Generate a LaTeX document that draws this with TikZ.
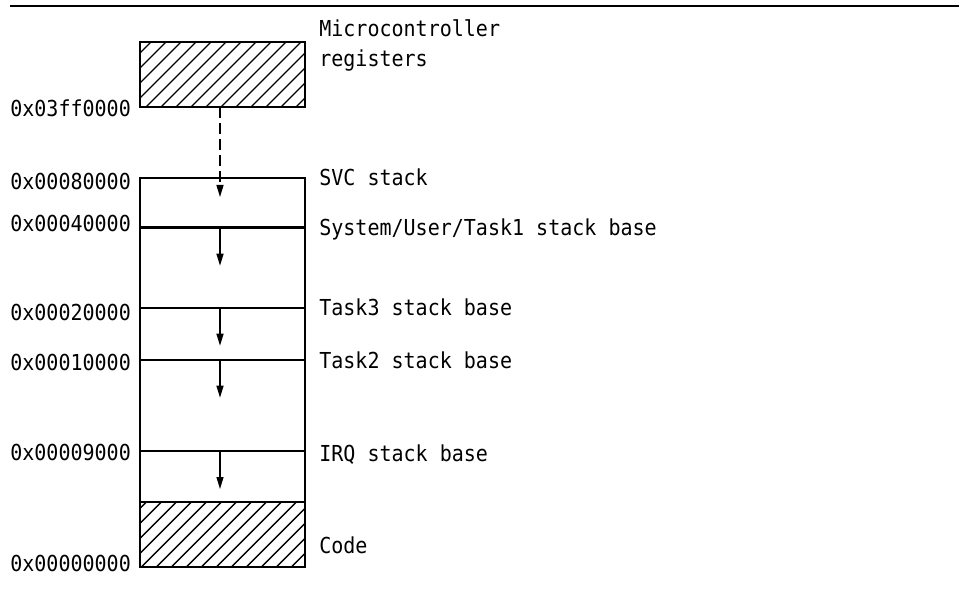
\documentclass[tikz,border=0pt]{standalone}
\usepackage{fontspec}
\newfontfamily\lblfont[FakeStretch=0.91]{DejaVu Sans Mono}
\usetikzlibrary{arrows.meta}
\begin{document}
\begin{tikzpicture}[x=1bp,y=-1bp,
  box/.style={draw,line width=2bp,inner sep=0,outer sep=0,anchor=north west,minimum width=165.3bp},
  lbl/.style={inner sep=0,outer sep=0,anchor=base west,font=\lblfont\fontsize{22bp}{30bp}\selectfont,align=left},
  growarrow/.style={line width=1.3bp,-{Triangle[width=7bp,length=12bp]}},
  hatchline/.style={line width=1.3bp}]
\useasboundingbox (0,0) rectangle (959,614);
% top rule
\coordinate (ruleL) at (10,6);
\coordinate (ruleR) at (959,6);
\draw[line width=1.5bp] (ruleL) -- (ruleR);

% microcontroller registers (hatched)
\node[box,minimum height=65bp] (regs) at (140,42) {};
\begin{scope}
  \clip (regs.south west) rectangle (regs.north east);
  \foreach \i in {-5,...,12} \draw[hatchline] (146+15*\i,107) -- ++(65,-65);
\end{scope}
\draw[line width=2bp] (regs.south west) rectangle (regs.north east);

% stack region
\node[box,minimum height=323.6bp] (stk) at (140,178) {};

% code (hatched)
\node[box,minimum height=65.1bp] (code) at (140,501.6) {};
\begin{scope}
  \clip (code.south west) rectangle (code.north east);
  \foreach \i in {-5,...,12} \draw[hatchline] (141.7+15*\i,566.7) -- ++(65.1,-65.1);
\end{scope}
\draw[line width=2bp] (code.south west) rectangle (code.north east);

% dividers
\foreach \y/\n/\w in {227.5/a/2.6,307.7/b/2,360.3/c/2,451.3/d/2.3} {
  \coordinate (l\n) at (140,\y);
  \coordinate (r\n) at (305.3,\y);
  \draw[line width=\w bp] (l\n) -- (r\n);
}

% growth arrows
\coordinate (s0) at (220,107);   \coordinate (t0) at (220,197);
\coordinate (sa) at (220,227.5); \coordinate (ta) at (220,265.7);
\coordinate (sb) at (220,307.7); \coordinate (tb) at (220,345.7);
\coordinate (sc) at (220,360.3); \coordinate (tc) at (220,397.7);
\coordinate (sd) at (220,451.3); \coordinate (td) at (220,489);
\draw[growarrow,dash pattern=on 11bp off 5bp] (s0) -- (t0);
\draw[growarrow] (sa) -- (ta);
\draw[growarrow] (sb) -- (tb);
\draw[growarrow] (sc) -- (tc);
\draw[growarrow] (sd) -- (td);

% address labels
\node[lbl] (adr1) at (10.3,116.5) {0x03ff0000};
\node[lbl] (adr2) at (10.3,189.3) {0x00080000};
\node[lbl] (adr3) at (10.3,231.5) {0x00040000};
\node[lbl] (adr4) at (10.3,320)   {0x00020000};
\node[lbl] (adr5) at (10.3,370)   {0x00010000};
\node[lbl] (adr6) at (10.3,460.7) {0x00009000};
\node[lbl] (adr7) at (10.3,571.7) {0x00000000};

% region labels
\node[lbl] (txt1) at (319.3,66.7) {Microcontroller\\registers};
\node[lbl] (txt2) at (319.3,186)  {SVC stack};
\node[lbl] (txt3) at (319.3,236)  {System/User/Task1 stack base};
\node[lbl] (txt4) at (319.3,315.3){Task3 stack base};
\node[lbl] (txt5) at (319.3,368)  {Task2 stack base};
\node[lbl] (txt6) at (319.3,461)  {IRQ stack base};
\node[lbl] (txt7) at (319.3,553.3){Code};
\end{tikzpicture}
\end{document}
